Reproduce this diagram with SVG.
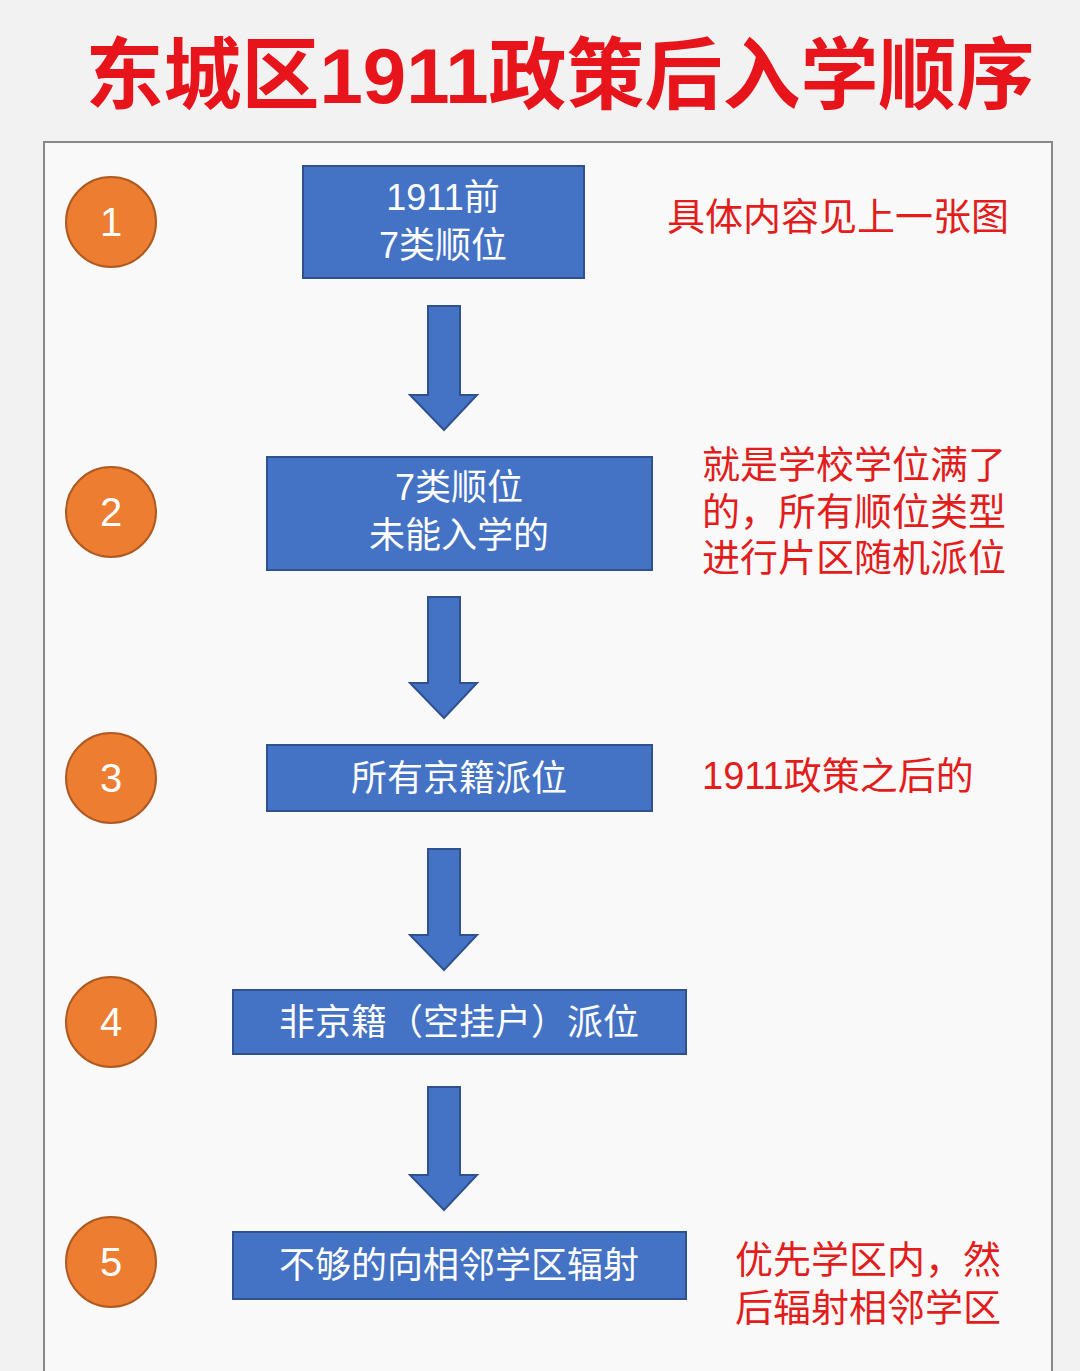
<svg xmlns="http://www.w3.org/2000/svg" width="1080" height="1371" viewBox="0 0 1080 1371">
<style>
.f{font-family:"Liberation Sans","Noto Sans CJK SC",sans-serif}
.box{fill:#4472c4;stroke:#2f528f;stroke-width:2}
.bt{fill:#fff;font-size:36px;text-anchor:middle;dominant-baseline:central}
.c{fill:#ed7d31;stroke:#ae5a21;stroke-width:2}
.ct{fill:#fff;font-size:40px;text-anchor:middle;dominant-baseline:central}
.ar{fill:#4472c4;stroke:#2f528f;stroke-width:2}
.rt{fill:#e31c1c;font-size:38px;dominant-baseline:central}
</style>
<rect width="1080" height="1371" fill="#f2f2f2"/>
<rect x="44" y="142" width="1008" height="1240" fill="#f9f9f9" stroke="#888" stroke-width="2"/>
<text class="f" x="560" y="76" fill="#e8141b" font-size="78" font-weight="bold" text-anchor="middle" dominant-baseline="central">东城区1911政策后入学顺序</text>
<g id="connectors">
<polygon class="ar" points="428,306 460,306 460,395 477,395 444,430 410,395 428,395"/>
<polygon class="ar" points="428,597 460,597 460,683 477,683 444,718 410,683 428,683"/>
<polygon class="ar" points="428,849 460,849 460,935 477,935 444,970 410,935 428,935"/>
<polygon class="ar" points="428,1087 460,1087 460,1175 477,1175 444,1210 410,1175 428,1175"/>
</g>
<g id="n1"><circle class="c" cx="111" cy="222" r="45"/><text class="f ct" x="111" y="222">1</text></g>
<g id="n2"><circle class="c" cx="111" cy="512" r="45"/><text class="f ct" x="111" y="512">2</text></g>
<g id="n3"><circle class="c" cx="111" cy="778" r="45"/><text class="f ct" x="111" y="778">3</text></g>
<g id="n4"><circle class="c" cx="111" cy="1022" r="45"/><text class="f ct" x="111" y="1022">4</text></g>
<g id="n5"><circle class="c" cx="111" cy="1262" r="45"/><text class="f ct" x="111" y="1262">5</text></g>
<g id="b1"><rect class="box" x="303" y="166" width="281" height="112"/><text class="f bt" x="443" y="197">1911前</text><text class="f bt" x="443" y="245">7类顺位</text></g>
<g id="b2"><rect class="box" x="267" y="457" width="385" height="113"/><text class="f bt" x="459" y="487">7类顺位</text><text class="f bt" x="459" y="535">未能入学的</text></g>
<g id="b3"><rect class="box" x="267" y="745" width="385" height="66"/><text class="f bt" x="459" y="778">所有京籍派位</text></g>
<g id="b4"><rect class="box" x="233" y="990" width="453" height="64"/><text class="f bt" x="459" y="1022">非京籍（空挂户）派位</text></g>
<g id="b5"><rect class="box" x="233" y="1232" width="453" height="67"/><text class="f bt" x="459" y="1265">不够的向相邻学区辐射</text></g>
<g id="notes">
<text class="f rt" x="667" y="217">具体内容见上一张图</text>
<text class="f rt" x="702" y="465">就是学校学位满了</text>
<text class="f rt" x="702" y="512">的，所有顺位类型</text>
<text class="f rt" x="702" y="558">进行片区随机派位</text>
<text class="f rt" x="702" y="776">1911政策之后的</text>
<text class="f rt" x="735" y="1260">优先学区内，然</text>
<text class="f rt" x="735" y="1308">后辐射相邻学区</text>
</g>
</svg>
